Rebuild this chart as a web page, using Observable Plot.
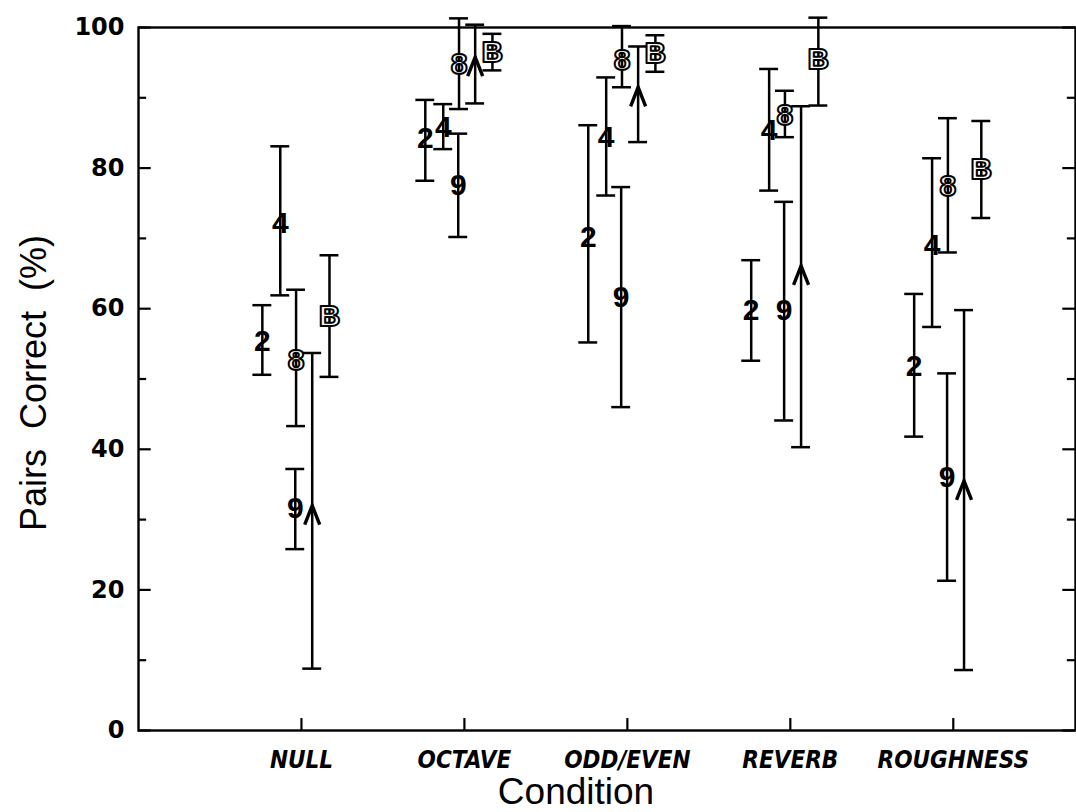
<!DOCTYPE html>
<html>
<head>
<meta charset="utf-8">
<script src="https://cdn.jsdelivr.net/npm/d3@7"></script>
<script src="https://cdn.jsdelivr.net/npm/@observablehq/plot@0.6"></script>
<style>
  html, body { margin: 0; padding: 0; background: #fff; }
</style>
</head>
<body>
<div id="chart"></div>
<script>
// ---- data ----
const conditions = ["NULL", "OCTAVE", "ODD/EVEN", "REVERB", "ROUGHNESS"];
const seriesLabels = ["2", "4", "8", "9", "arrow", "B"];

const mean2  = [55.4, 84.2, 70.2, 59.7, 51.8];
const upper2 = [60.5, 89.7, 86.1, 66.9, 62.1];
const lower2 = [50.6, 78.2, 55.2, 52.6, 41.8];

const mean4  = [72.1, 85.8, 84.4, 85.3, 69.0];
const upper4 = [83.1, 89.1, 92.9, 94.1, 81.4];
const lower4 = [61.9, 82.7, 76.1, 76.8, 57.4];

const mean8  = [52.7, 94.8, 95.3, 87.5, 77.4];
const upper8 = [62.7, 101.3, 100.2, 91.0, 87.1];
const lower8 = [43.3, 88.4, 91.5, 84.4, 68.0];

const mean9  = [31.6, 77.5, 61.6, 59.7, 36.0];
const upper9 = [37.2, 84.9, 77.3, 75.2, 50.8];
const lower9 = [25.8, 70.2, 46.0, 44.1, 21.3];

const meanArrow  = [32.0, 95.8, 91.5, 66.1, 35.5];
const upperArrow = [53.7, 100.4, 97.3, 88.8, 59.8];
const lowerArrow = [8.8, 89.2, 83.7, 40.3, 8.6];

const meanB  = [58.9, 96.5, 96.3, 95.5, 79.8];
const upperB = [67.6, 99.1, 98.9, 101.4, 86.7];
const lowerB = [50.3, 93.9, 93.7, 88.9, 72.9];

const yTickLabels = [0, 20, 40, 60, 80, 100];
const yMinorTicks = [10, 30, 50, 70, 90];

// ---- build table ----
const seriesData = {
  "2": [mean2, upper2, lower2],
  "4": [mean4, upper4, lower4],
  "8": [mean8, upper8, lower8],
  "9": [mean9, upper9, lower9],
  "arrow": [meanArrow, upperArrow, lowerArrow],
  "B": [meanB, upperB, lowerB]
};
// horizontal dodge of each series within a condition (layout)
const dodge = {"2": -0.24, "4": -0.13, "8": -0.033, "9": -0.038, "arrow": 0.066, "B": 0.172};
const rows = seriesLabels.flatMap(s => conditions.map((c, i) => ({
  series: s, condition: c, pos: i + 1 + dodge[s],
  mean: seriesData[s][0][i], upper: seriesData[s][1][i], lower: seriesData[s][2][i]
})));
const condIndex = conditions.map((c, i) => i + 1);

const X_MAX = 5.75;
const capHalf = 0.058;
const majorLen = 0.078, minorLen = 0.05;
const tickUp = 1.7;

const chevron = {
  draw(context) {
    context.moveTo(-7.5, 19);
    context.lineTo(0, 0);
    context.lineTo(7.5, 19);
  }
};

const chart = Plot.plot({
  width: 1076,
  height: 812,
  marginLeft: 138,
  marginRight: 1,
  marginTop: 27,
  marginBottom: 82,
  x: {type: "linear", domain: [0, X_MAX]},
  y: {domain: [0, 100]},
  style: {background: "white", color: "black", overflow: "visible"},
  marks: [
    Plot.frame({strokeWidth: 2.4}),
    // inward ticks, left & right
    Plot.ruleY(yTickLabels, {y: d => d, x1: 0, x2: majorLen, strokeWidth: 2.2}),
    Plot.ruleY(yMinorTicks, {y: d => d, x1: 0, x2: minorLen, strokeWidth: 2.2}),
    Plot.ruleY(yTickLabels, {y: d => d, x1: X_MAX - majorLen, x2: X_MAX, strokeWidth: 2.2}),
    Plot.ruleY(yMinorTicks, {y: d => d, x1: X_MAX - minorLen, x2: X_MAX, strokeWidth: 2.2}),
    // inward ticks, bottom
    Plot.ruleX(condIndex, {x: d => d, y1: 0, y2: tickUp, strokeWidth: 2.2}),
    Plot.axisY(yTickLabels, {tickSize: 0, tickPadding: 14, fontSize: 24, fontWeight: "bold", fontFamily: "DejaVu Sans", label: null}),
    Plot.axisX(condIndex, {tickSize: 0, tickPadding: 20, tickFormat: d => conditions[d - 1], fontSize: 24, fontWeight: "bold", fontStyle: "italic", fontFamily: "DejaVu Sans Condensed", label: null}),
    Plot.text(["Pairs  Correct  (%)"], {frameAnchor: "left", textAnchor: "middle", lineAnchor: "middle", dx: -104, dy: 4, rotate: -90, fontSize: 36, fontFamily: "Liberation Sans"}),
    Plot.text(["Condition"], {frameAnchor: "bottom", textAnchor: "middle", lineAnchor: "middle", dx: -31, dy: 62, fontSize: 37, fontFamily: "Liberation Sans"}),
    // error bars
    Plot.ruleX(rows, {x: "pos", y1: "lower", y2: "upper", strokeWidth: 2.5}),
    Plot.ruleY(rows, {y: "upper", x1: d => d.pos - capHalf, x2: d => d.pos + capHalf, strokeWidth: 2.5}),
    Plot.ruleY(rows, {y: "lower", x1: d => d.pos - capHalf, x2: d => d.pos + capHalf, strokeWidth: 2.5}),
    // markers
    Plot.text(rows.filter(d => ["2", "4", "9"].includes(d.series)), {
      x: "pos", y: "mean", text: "series", fontSize: 30, fontWeight: "bold", fontFamily: "Liberation Sans", fill: "black"
    }),
    Plot.text(rows.filter(d => ["8", "B"].includes(d.series)), {
      x: "pos", y: "mean", text: "series", fontSize: 30, fontWeight: "bold", fontFamily: "Liberation Sans",
      fill: "white", stroke: "black", strokeWidth: 2, paintOrder: "fill"
    }),
    Plot.dot(rows.filter(d => d.series === "arrow"), {
      x: "pos", y: "mean", symbol: chevron, fill: "none", stroke: "black", strokeWidth: 3.4, strokeLinejoin: "miter"
    })
  ]
});
document.getElementById("chart").appendChild(chart);
</script>
</body>
</html>
